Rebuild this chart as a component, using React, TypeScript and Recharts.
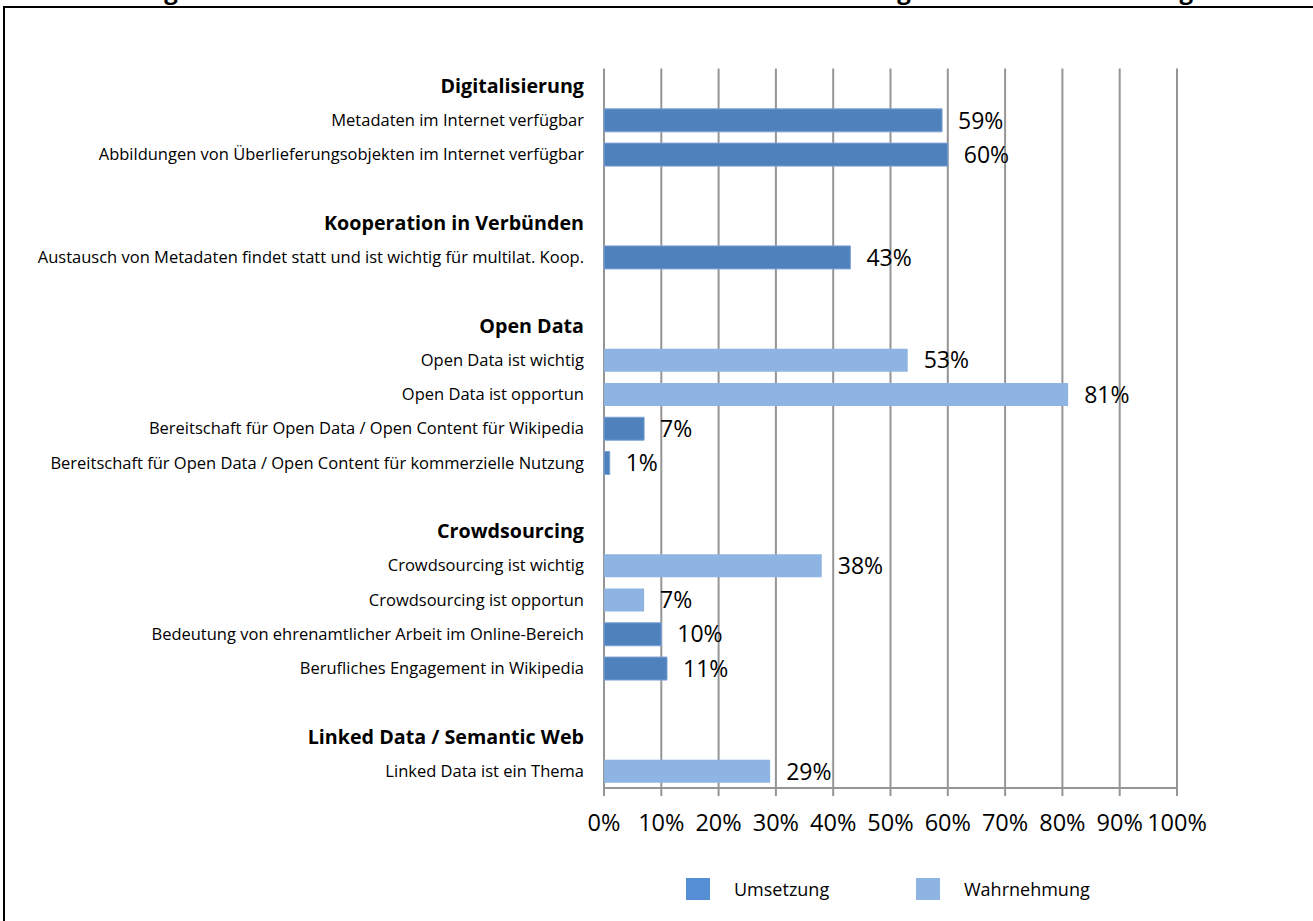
import React from 'react';
import {
  BarChart,
  Bar,
  XAxis,
  YAxis,
  CartesianGrid,
  LabelList,
  Legend,
} from 'recharts';

const TITLE = 'Bewertung der fünf Themenfelder aus Sicht der Wahrnehmung und der Umsetzung';

const categories: string[] = [
  'Digitalisierung',
  'Metadaten im Internet verfügbar',
  'Abbildungen von Überlieferungsobjekten im Internet verfügbar',
  '',
  'Kooperation in Verbünden',
  'Austausch von Metadaten findet statt und ist wichtig für multilat. Koop.',
  '',
  'Open Data',
  'Open Data ist wichtig',
  'Open Data ist opportun',
  'Bereitschaft für Open Data / Open Content für Wikipedia',
  'Bereitschaft für Open Data / Open Content für kommerzielle Nutzung',
  '',
  'Crowdsourcing',
  'Crowdsourcing ist wichtig',
  'Crowdsourcing ist opportun',
  'Bedeutung von ehrenamtlicher Arbeit im Online-Bereich',
  'Berufliches Engagement in Wikipedia',
  '',
  'Linked Data / Semantic Web',
  'Linked Data ist ein Thema',
];

const headers: string[] = [
  'Digitalisierung',
  'Kooperation in Verbünden',
  'Open Data',
  'Crowdsourcing',
  'Linked Data / Semantic Web',
];

const umsetzung: (number | null)[] = [
  null, 59, 60, null, null, 43, null, null, null, null, 7, 1, null, null, null, null, 10, 11, null, null, null,
];

const wahrnehmung: (number | null)[] = [
  null, null, null, null, null, null, null, null, 53, 81, null, null, null, null, 38, 7, null, null, null, null, 29,
];

const xTicks: number[] = [0, 10, 20, 30, 40, 50, 60, 70, 80, 90, 100];

const seriesNames = { umsetzung: 'Umsetzung', wahrnehmung: 'Wahrnehmung' };

const data = categories.map((name, i) => ({
  name,
  umsetzung: umsetzung[i],
  wahrnehmung: wahrnehmung[i],
}));

const FONT = '"Open Sans", sans-serif';
const DARK = '#4F81BD';
const LIGHT = '#8DB4E2';
const LEG_DARK = '#558ED5';
const LEG_LIGHT = '#8EB4E3';
const GRID = '#959595';

const YTick = (props: any) => {
  const { y, payload } = props;
  const label: string = payload.value;
  const isHeader = headers.includes(label);
  return (
    <text
      x={584}
      y={y}
      dy={isHeader ? 7 : 6}
      textAnchor="end"
      fontFamily={FONT}
      fontSize={isHeader ? 19.7 : 16.5}
      fontWeight={isHeader ? 700 : 400}
      fill="#000"
    >
      {label}
    </text>
  );
};

const XTick = (props: any) => {
  const { x, y, payload } = props;
  return (
    <text x={x} y={y} dy={33} textAnchor="middle" fontFamily={FONT} fontSize={23.5} fill="#000">
      {`${payload.value}%`}
    </text>
  );
};

const LegendContent = () => {
  const items = [
    { name: seriesNames.umsetzung, color: LEG_DARK },
    { name: seriesNames.wahrnehmung, color: LEG_LIGHT },
  ];
  return (
    <div style={{ display: 'flex', fontFamily: FONT, fontSize: 18, color: '#000', lineHeight: '24px' }}>
      {items.map((it) => (
        <div key={it.name} style={{ width: 230, display: 'flex', alignItems: 'center' }}>
          <div style={{ width: 24, height: 22, background: it.color, marginRight: 24 }} />
          <span>{it.name}</span>
        </div>
      ))}
    </div>
  );
};

const fmt = (v: any) => (v === null || v === undefined || v === 0 ? '' : `${v}%`);

export default function App() {
  return (
    <div
      style={{
        position: 'absolute',
        left: 0,
        top: 0,
        width: 1313,
        height: 921,
        overflow: 'hidden',
        background: '#fff',
      }}
    >
      <svg width={1313} height={8} style={{ position: 'absolute', left: 0, top: 0 }}>
        <text
          x={28}
          y={-1}
          textLength={1165}
          lengthAdjust="spacing"
          fontFamily={FONT}
          fontWeight={700}
          fontSize={24}
          fill="#000"
        >
          {TITLE}
        </text>
      </svg>
      <div
        style={{
          position: 'absolute',
          left: 3,
          top: 6,
          width: 1320,
          height: 930,
          borderLeft: '2px solid #000',
          borderTop: '2px solid #000',
        }}
      />
      <div style={{ position: 'absolute', left: 0, top: 0 }}>
        <BarChart
          width={1313}
          height={921}
          data={data}
          layout="vertical"
          margin={{ top: 68.6, right: 136, bottom: 87.9, left: 0 }}
          barSize={23}
        >
          <CartesianGrid horizontal={false} stroke={GRID} strokeWidth={2} />
          <XAxis
            type="number"
            domain={[0, 100]}
            ticks={xTicks}
            interval={0}
            height={45}
            axisLine={{ stroke: GRID, strokeWidth: 2 }}
            tickLine={{ stroke: GRID, strokeWidth: 2 }}
            tickSize={8}
            tick={<XTick />}
          />
          <YAxis
            type="category"
            dataKey="name"
            width={604}
            axisLine={false}
            tickLine={false}
            interval={0}
            tick={<YTick />}
          />
          <Legend
            verticalAlign="middle"
            layout="horizontal"
            wrapperStyle={{ left: 686, top: 877, width: 500 }}
            content={<LegendContent />}
          />
          <Bar
            dataKey="umsetzung"
            name={seriesNames.umsetzung}
            stackId="s"
            fill={DARK}
            stroke="#7ea3d3"
            strokeWidth={1}
            isAnimationActive={false}
          >
            <LabelList
              dataKey="umsetzung"
              position="right"
              offset={16}
              formatter={fmt}
              fontFamily={FONT}
              fontSize={23}
              fill="#000"
            />
          </Bar>
          <Bar
            dataKey="wahrnehmung"
            name={seriesNames.wahrnehmung}
            stackId="s"
            fill={LIGHT}
            isAnimationActive={false}
          >
            <LabelList
              dataKey="wahrnehmung"
              position="right"
              offset={16}
              formatter={fmt}
              fontFamily={FONT}
              fontSize={23}
              fill="#000"
            />
          </Bar>
        </BarChart>
      </div>
    </div>
  );
}
